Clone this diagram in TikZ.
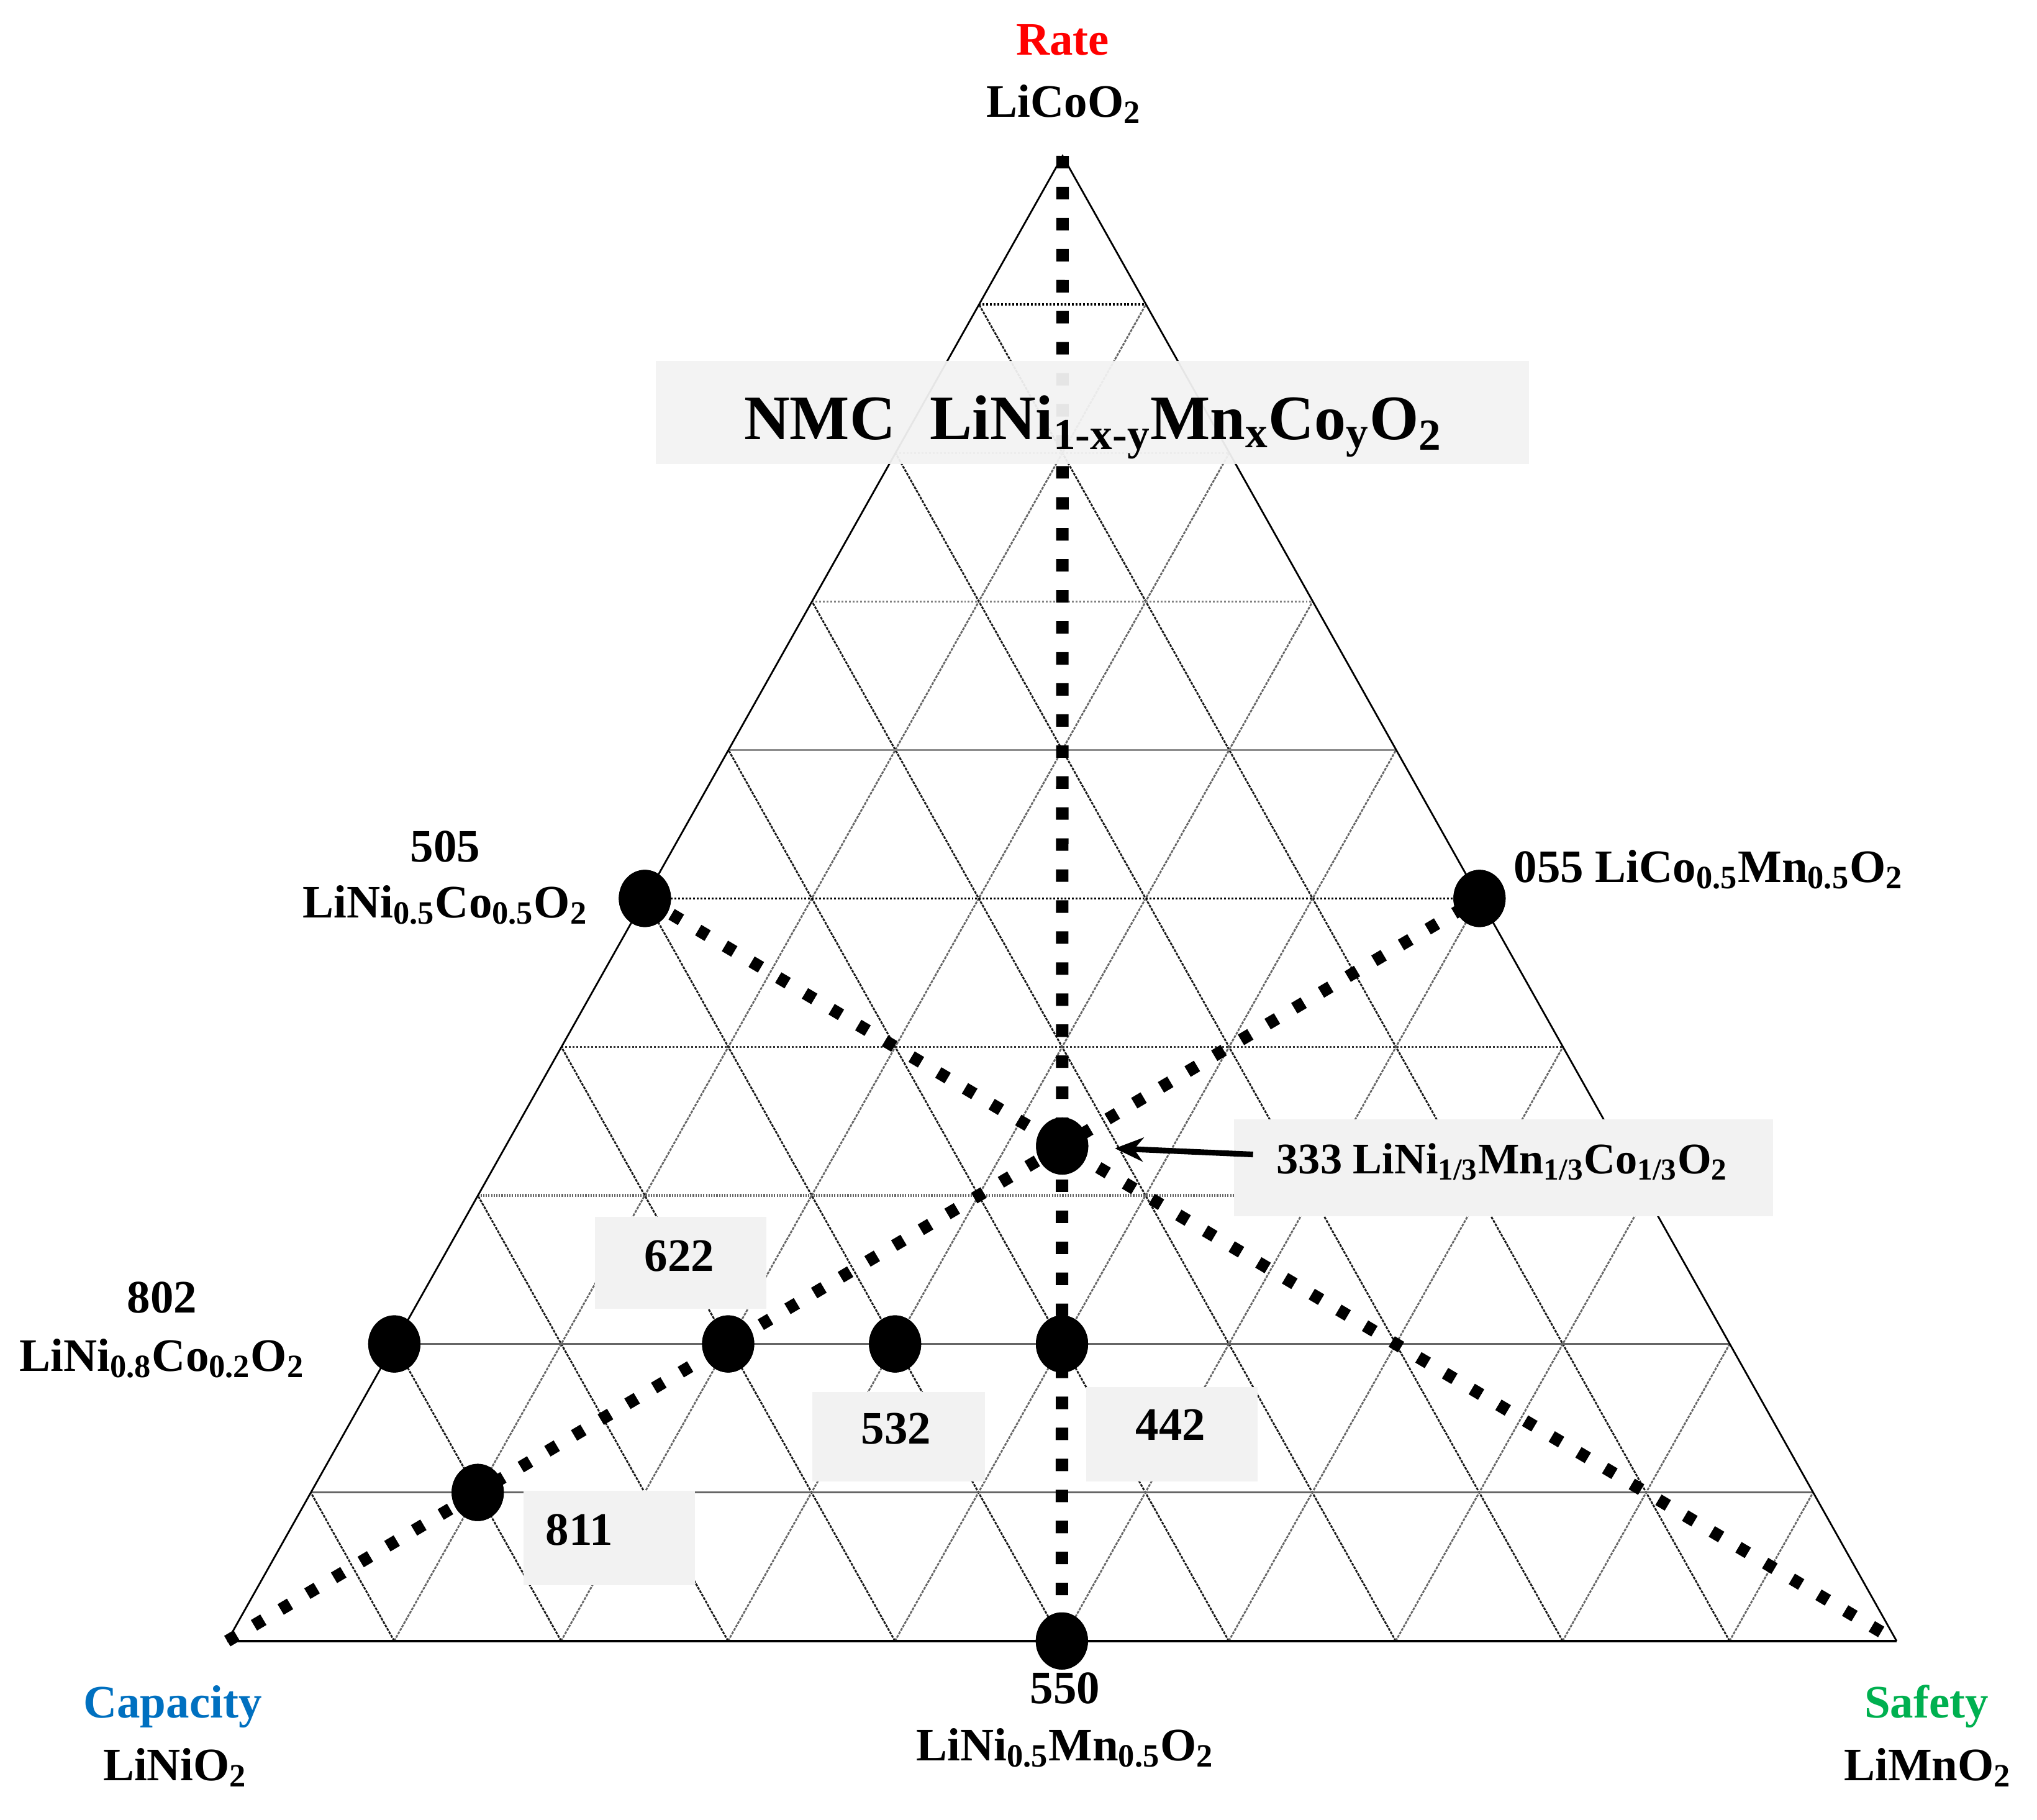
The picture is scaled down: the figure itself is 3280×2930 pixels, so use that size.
\documentclass[tikz,border=0pt]{standalone}
\usepackage{fontspec}
\setmainfont{Liberation Serif}
\usetikzlibrary{shapes.geometric,arrows.meta}
\newcommand\sbs[1]{\textsubscript{#1}}
\definecolor{capblue}{HTML}{0070C0}
\definecolor{safegreen}{HTML}{00B050}
\definecolor{boxgray}{HTML}{F2F2F2}
\begin{document}
\begin{tikzpicture}[x=0.01cm,y=-0.01cm,
  lbl/.style={font=\fontsize{21.3}{26}\selectfont\bfseries, inner sep=0pt, anchor=base},
  lblsm/.style={font=\fontsize{20}{24}\selectfont\bfseries, inner sep=0pt, anchor=base},
  ttl/.style={font=\fontsize{29}{36}\selectfont\bfseries, inner sep=0pt, anchor=base},
  dot/.style={ellipse, fill=black, inner sep=0pt, minimum width=0.84cm, minimum height=0.92cm},
  gbox/.style={fill=boxgray, draw=none, inner sep=0pt},
  slantA/.style={black!90, line width=0.8pt, dash pattern=on 1.3pt off 0.5pt},
  slantB/.style={black!60, line width=0.8pt, dash pattern=on 1.3pt off 0.5pt},
  hsolid/.style={black!60, line width=1pt},
  hsolidl/.style={black!45, line width=0.8pt},
  hhatch/.style={black!60, line width=1.4pt, dash pattern=on 0.6pt off 0.6pt},
  hdotd/.style={black!80, line width=0.9pt, dash pattern=on 0.85pt off 0.85pt},
  hdotk/.style={black, line width=0.9pt, dash pattern=on 0.85pt off 0.85pt},
  hdotl/.style={black!50, line width=0.8pt, dash pattern=on 0.85pt off 0.85pt},
  side/.style={black, line width=0.8pt},
  base/.style={black, line width=1.4pt},
  heavyv/.style={black, line width=5.7pt, dash pattern=on 5.7pt off 8.5pt},
  heavyd/.style={black, line width=5.6pt, dash pattern=on 5pt off 9.2pt},
  arr/.style={-{Stealth[length=13pt,width=11pt]}, line width=2.6pt}
]
\useasboundingbox (0,0) rectangle (3280,2930);
\coordinate (L) at (366,2642);
\coordinate (R) at (3054,2642);
\coordinate (T) at (1711,251);

% slanted grid lines
\foreach \k in {1,...,9} {
  \pgfmathtruncatemacro\j{10-\k}
  \draw[slantA] (barycentric cs:L=\k,R=\j) -- (barycentric cs:L=\k,T=\j);
  \draw[slantB] (barycentric cs:L=\j,R=\k) -- (barycentric cs:R=\k,T=\j);
}
% horizontal grid lines
\draw[hsolid] (barycentric cs:L=9,T=1) -- (barycentric cs:R=9,T=1);
\draw[hsolid] (barycentric cs:L=8,T=2) -- (barycentric cs:R=8,T=2);
\draw[hhatch] (barycentric cs:L=7,T=3) -- (barycentric cs:R=7,T=3);
\draw[hdotd] (barycentric cs:L=6,T=4) -- (barycentric cs:R=6,T=4);
\draw[hdotk] (barycentric cs:L=5,T=5) -- (barycentric cs:R=5,T=5);
\draw[hsolidl] (barycentric cs:L=4,T=6) -- (barycentric cs:R=4,T=6);
\draw[hdotl] (barycentric cs:L=3,T=7) -- (barycentric cs:R=3,T=7);
\draw[hdotl] (barycentric cs:L=2,T=8) -- (barycentric cs:R=2,T=8);
\draw[hdotk] (barycentric cs:L=1,T=9) -- (barycentric cs:R=1,T=9);

% triangle
\draw[side] (L) -- (T) -- (R);
\draw[base] (L) -- (R);

% label boxes (opaque)
\node[gbox, minimum width=8.68cm, minimum height=1.55cm] (b333) at (2421,1880) {};
\node[gbox, minimum width=2.76cm, minimum height=1.47cm] (b622) at (1096,2033) {};
\node[gbox, minimum width=2.77cm, minimum height=1.43cm] (b532) at (1447,2313) {};
\node[gbox, minimum width=2.76cm, minimum height=1.51cm] (b442) at (1887,2309) {};
\node[gbox, minimum width=2.76cm, minimum height=1.51cm] (b811) at (981,2476) {};

% composition points
\node[dot] (d505) at (barycentric cs:L=5,T=5) {};
\node[dot] (d055) at (barycentric cs:R=5,T=5) {};
\node[dot] (d550) at (barycentric cs:L=5,R=5) {};
\node[dot] (d333) at (barycentric cs:L=1,R=1,T=1) {};
\node[dot] (d802) at (barycentric cs:L=8,T=2) {};
\node[dot] (d622) at (barycentric cs:L=6,R=2,T=2) {};
\node[dot] (d532) at (barycentric cs:L=5,R=3,T=2) {};
\node[dot] (d442) at (barycentric cs:L=4,R=4,T=2) {};
\node[dot] (d811) at (barycentric cs:L=8,R=1,T=1) {};

% heavy dotted lines
\draw[heavyv] (T) -- (d550.center);
\draw[heavyd] (L) -- (d055.center);
\draw[heavyd] (d505.center) -- (R);

% redraw dots on top
\foreach \n in {d505,d055,d550,d333,d802,d622,d532,d442,d811}
  \fill (\n.center) ellipse [x radius=0.42cm, y radius=0.46cm];

% title box (semi-transparent)
\node[gbox, fill opacity=0.95, minimum width=14.06cm, minimum height=1.66cm] (tbox) at (1759,664) {};
\node[ttl] (title) at (1760,707) {NMC\hspace{0.55em}LiNi\sbs{1-x-y}Mn\sbs{x}Co\sbs{y}O\sbs{2}};

% arrow to 333
\draw[arr, shorten <=-9pt, shorten >=12pt] ([yshift=6.5pt]b333.west) -- (d333);

% box texts
\node[lblsm] (t333) at (2419,1889) {333 LiNi\sbs{1/3}Mn\sbs{1/3}Co\sbs{1/3}O\sbs{2}};
\node[lbl] (t622) at (1094,2046) {622};
\node[lbl] (t532) at (1443,2324) {532};
\node[lbl] (t442) at (1885,2318) {442};
\node[lbl] (t811) at (933,2487) {811};

% corner and edge labels
\node[lbl, text=red] (rate) at (1711,88) {Rate};
\node[lbl] (lco) at (1713,188) {LiCoO\sbs{2}};
\node[lbl, text=capblue] (cap) at (278,2765) {Capacity};
\node[lbl] (lno) at (282,2866) {LiNiO\sbs{2}};
\node[lbl, text=safegreen] (saf) at (3102,2765) {Safety};
\node[lbl] (lmo) at (3104,2866) {LiMnO\sbs{2}};
\node[lbl] (n550) at (1715,2742) {550};
\node[lbl] (f550) at (1715,2834) {LiNi\sbs{0.5}Mn\sbs{0.5}O\sbs{2}};
\node[lbl] (n505) at (717,1387) {505};
\node[lbl] (f505) at (717,1477) {LiNi\sbs{0.5}Co\sbs{0.5}O\sbs{2}};
\node[lbl, anchor=base west] (f055) at (2437,1420) {055 LiCo\sbs{0.5}Mn\sbs{0.5}O\sbs{2}};
\node[lbl] (n802) at (261,2113) {802};
\node[lbl] (f802) at (261,2207) {LiNi\sbs{0.8}Co\sbs{0.2}O\sbs{2}};
\end{tikzpicture}
\end{document}
